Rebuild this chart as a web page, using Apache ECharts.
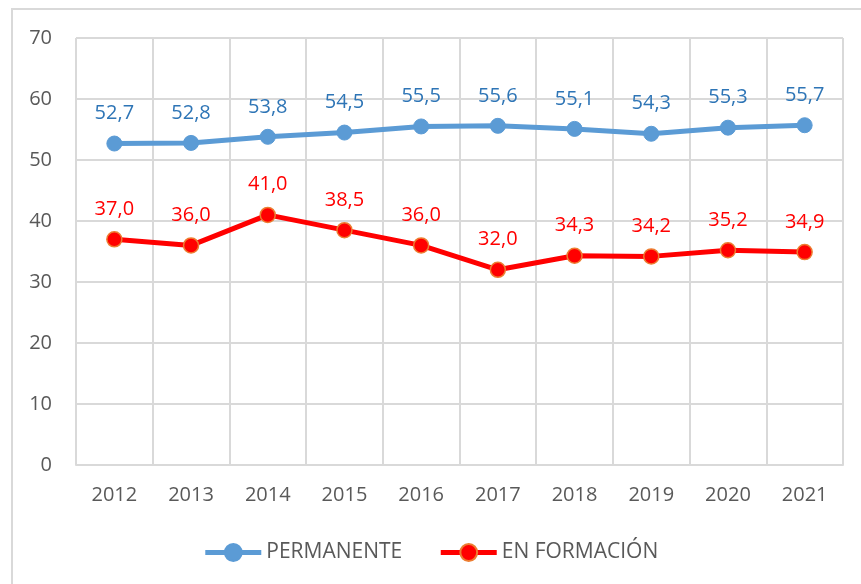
<!DOCTYPE html>
<html>
<head>
<meta charset="utf-8">
<script src="https://cdn.jsdelivr.net/npm/echarts@6/dist/echarts.min.js"></script>
<style>
  html, body { margin: 0; padding: 0; background: #fff; }
  #chart { width: 861px; height: 584px; }
</style>
</head>
<body>
<div id="chart"></div>
<script>
// Years on the horizontal axis
const years = ['2012', '2013', '2014', '2015', '2016', '2017', '2018', '2019', '2020', '2021'];
// Series values
const permanente = [52.7, 52.8, 53.8, 54.5, 55.5, 55.6, 55.1, 54.3, 55.3, 55.7];
const enFormacion = [37.0, 36.0, 41.0, 38.5, 36.0, 32.0, 34.3, 34.2, 35.2, 34.9];
// Series names
const seriesNames = ['PERMANENTE', 'EN FORMACIÓN'];

const fontFamily = '"Open Sans", "Noto Sans", sans-serif';
const fmt = v => v.toFixed(1).replace('.', ',');

const chart = echarts.init(document.getElementById('chart'), null, { renderer: 'canvas' });
chart.setOption({
  animation: false,
  backgroundColor: '#ffffff',
  textStyle: { fontFamily },
  graphic: [{
    type: 'rect',
    shape: { x: 12, y: 9, width: 900, height: 700 },
    style: { fill: 'none', stroke: '#d9d9d9', lineWidth: 2 },
    silent: true
  }],
  grid: { left: 76, right: 18, top: 38, bottom: 119 },
  legend: {
    top: 537,
    left: 'center',
    itemWidth: 56,
    itemHeight: 21,
    itemGap: 36,
    lineStyle: { width: 5 },
    textStyle: { color: '#595959', fontSize: 21, fontFamily },
    data: seriesNames
  },
  xAxis: {
    type: 'category',
    data: years,
    boundaryGap: true,
    axisLine: { show: true, lineStyle: { color: '#d9d9d9', width: 2 } },
    axisTick: { show: false },
    splitLine: { show: true, lineStyle: { color: '#d9d9d9', width: 2 } },
    axisLabel: { color: '#595959', fontSize: 20, margin: 20, fontFamily }
  },
  yAxis: {
    type: 'value',
    min: 0,
    max: 70,
    interval: 10,
    axisLine: { show: false },
    axisTick: { show: false },
    splitLine: { show: true, lineStyle: { color: '#d9d9d9', width: 2 } },
    axisLabel: { color: '#595959', fontSize: 20, margin: 24, fontFamily }
  },
  series: [
    {
      name: seriesNames[0],
      type: 'line',
      data: permanente,
      symbol: 'circle',
      symbolSize: 15,
      lineStyle: { color: '#5b9bd5', width: 5 },
      itemStyle: { color: '#5b9bd5', borderColor: '#5b9bd5', borderWidth: 1 },
      label: {
        show: true, position: 'top', distance: 12,
        color: '#2e75b6', fontSize: 20, fontFamily,
        formatter: p => fmt(p.value)
      }
    },
    {
      name: seriesNames[1],
      type: 'line',
      data: enFormacion,
      symbol: 'circle',
      symbolSize: 15,
      lineStyle: { color: '#ff0000', width: 5 },
      itemStyle: { color: '#ff0000', borderColor: '#ed7d31', borderWidth: 1.5 },
      label: {
        show: true, position: 'top', distance: 12,
        color: '#ff0000', fontSize: 20, fontFamily,
        formatter: p => fmt(p.value)
      }
    }
  ]
});
</script>
</body>
</html>
